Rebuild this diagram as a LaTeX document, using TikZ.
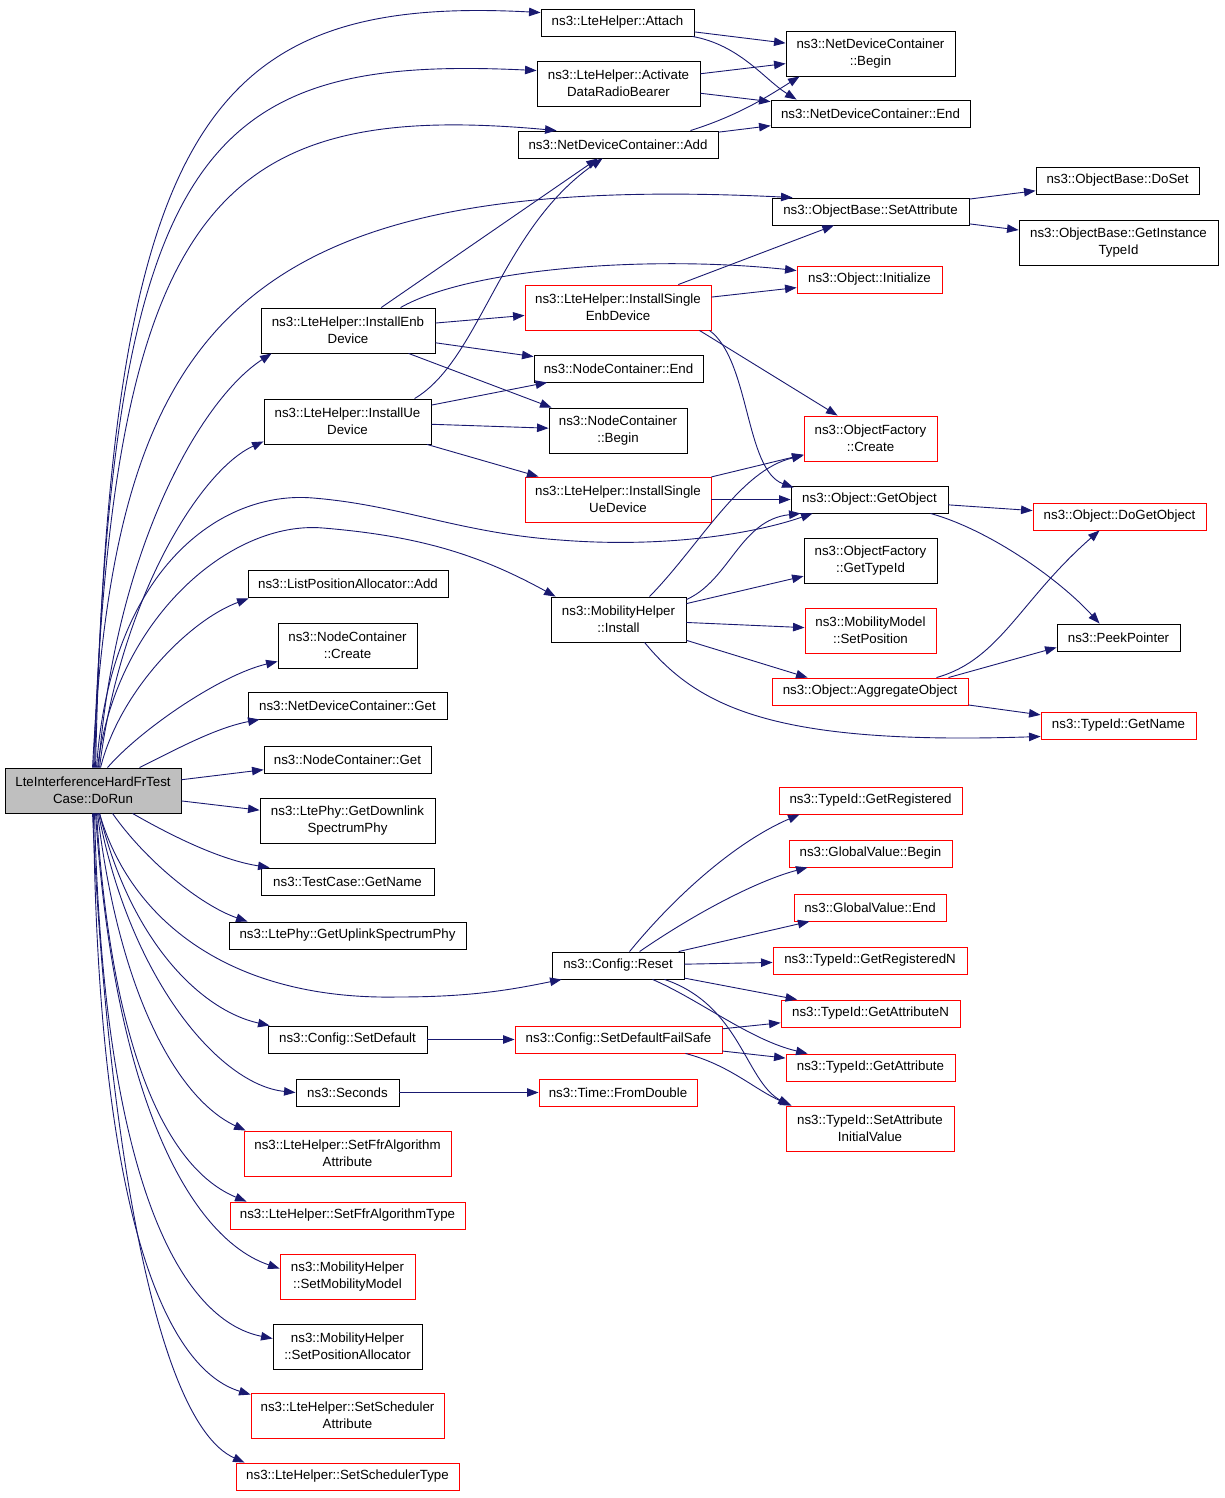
\documentclass[tikz,border=0pt]{standalone}
\usepackage{fontspec}
\newfontfamily\dfont{Liberation Sans}
\usetikzlibrary{arrows.meta,calc}
\definecolor{edgecol}{RGB}{25,25,112}
\definecolor{rootfill}{RGB}{191,191,191}
\newcommand\nodefont{\dfont\fontsize{13.3pt}{17pt}\selectfont}
\tikzset{
  nb/.style={draw=black, fill=white, line width=0.9pt, inner sep=0pt, align=center, font=\nodefont},
  rb/.style={nb, draw=red},
  box/.style 2 args={minimum width=#1pt, minimum height=#2pt},
  edge/.style={draw=edgecol, line width=0.9pt, -{Triangle[length=11.5pt,width=8.5pt]}}
}
\begin{document}
\begin{tikzpicture}[x=1pt,y=-1pt]
\useasboundingbox (0,0) rectangle (1224,1498);
% root
\node[nb, fill=rootfill, box={176}{45}] (root) at (93,790.5) {LteInterferenceHardFrTest\\Case::DoRun};
% column 1
\node[nb, box={153}{27}] (attach) at (617.5,22.5) {ns3::LteHelper::Attach};
\node[nb, box={163}{45}] (activate) at (618.5,83.5) {ns3::LteHelper::Activate\\DataRadioBearer};
\node[nb, box={200}{27}] (ndcadd) at (618,144.5) {ns3::NetDeviceContainer::Add};
\node[nb, box={174}{45}] (enb) at (348,330.5) {ns3::LteHelper::InstallEnb\\Device};
\node[nb, box={167}{45}] (ue) at (347.5,421.5) {ns3::LteHelper::InstallUe\\Device};
\node[nb, box={200}{27}] (lpa) at (348,583.5) {ns3::ListPositionAllocator::Add};
\node[nb, box={139}{45}] (nccreate) at (347.5,645.5) {ns3::NodeContainer\\::Create};
\node[nb, box={199}{27}] (ndcget) at (347.5,705.5) {ns3::NetDeviceContainer::Get};
\node[nb, box={167}{27}] (ncget) at (347.5,759.5) {ns3::NodeContainer::Get};
\node[nb, box={175}{45}] (downlink) at (347.5,820.5) {ns3::LtePhy::GetDownlink\\SpectrumPhy};
\node[nb, box={173}{27}] (tcname) at (347.5,881.5) {ns3::TestCase::GetName};
\node[nb, box={237}{27}] (uplink) at (347.5,935.5) {ns3::LtePhy::GetUplinkSpectrumPhy};
\node[nb, box={159}{27}] (setdefault) at (347.5,1039.5) {ns3::Config::SetDefault};
\node[nb, box={103}{27}] (seconds) at (347.5,1092.5) {ns3::Seconds};
\node[rb, box={207}{45}] (ffrattr) at (347.5,1153.5) {ns3::LteHelper::SetFfrAlgorithm\\Attribute};
\node[rb, box={235}{27}] (ffrtype) at (347.5,1215.5) {ns3::LteHelper::SetFfrAlgorithmType};
\node[rb, box={135}{45}] (setmob) at (347.5,1276.5) {ns3::MobilityHelper\\::SetMobilityModel};
\node[nb, box={149}{45}] (setpos) at (347.5,1346.5) {ns3::MobilityHelper\\::SetPositionAllocator};
\node[rb, box={193}{45}] (schedattr) at (347.5,1415.5) {ns3::LteHelper::SetScheduler\\Attribute};
\node[rb, box={223}{27}] (schedtype) at (347.5,1476.5) {ns3::LteHelper::SetSchedulerType};
% column 2
\node[rb, box={186}{45}] (senb) at (618,307.5) {ns3::LteHelper::InstallSingle\\EnbDevice};
\node[nb, box={169}{27}] (ncend) at (618.5,368.5) {ns3::NodeContainer::End};
\node[nb, box={138}{45}] (ncbegin) at (618,430.5) {ns3::NodeContainer\\::Begin};
\node[rb, box={186}{45}] (sue) at (618,499.5) {ns3::LteHelper::InstallSingle\\UeDevice};
\node[nb, box={135}{45}] (mobinst) at (618.5,619.5) {ns3::MobilityHelper\\::Install};
\node[nb, box={132}{27}] (reset) at (618,965.5) {ns3::Config::Reset};
\node[rb, box={207}{27}] (failsafe) at (618.5,1039.5) {ns3::Config::SetDefaultFailSafe};
\node[rb, box={158}{27}] (fromdouble) at (618,1092.5) {ns3::Time::FromDouble};
% column 3
\node[nb, box={169}{45}] (ndcbegin) at (870.5,53.5) {ns3::NetDeviceContainer\\::Begin};
\node[nb, box={199}{27}] (ndcend) at (870.5,113.5) {ns3::NetDeviceContainer::End};
\node[nb, box={197}{27}] (setattr) at (870.5,211.5) {ns3::ObjectBase::SetAttribute};
\node[rb, box={145}{27}] (init) at (869.5,279.5) {ns3::Object::Initialize};
\node[rb, box={133}{45}] (ofcreate) at (870.5,438.5) {ns3::ObjectFactory\\::Create};
\node[nb, box={157}{27}] (getobj) at (869.5,499.5) {ns3::Object::GetObject};
\node[nb, box={133}{45}] (oftypeid) at (870.5,560.5) {ns3::ObjectFactory\\::GetTypeId};
\node[rb, box={131}{45}] (setposition) at (870.5,630.5) {ns3::MobilityModel\\::SetPosition};
\node[rb, box={196}{27}] (aggr) at (870,691.5) {ns3::Object::AggregateObject};
\node[rb, box={183}{27}] (getreg) at (870.5,800.5) {ns3::TypeId::GetRegistered};
\node[rb, box={163}{27}] (gvbegin) at (870.5,853.5) {ns3::GlobalValue::Begin};
\node[rb, box={152}{27}] (gvend) at (870,907.5) {ns3::GlobalValue::End};
\node[rb, box={194}{27}] (getregn) at (870,960.5) {ns3::TypeId::GetRegisteredN};
\node[rb, box={179}{27}] (getattrn) at (870.5,1013.5) {ns3::TypeId::GetAttributeN};
\node[rb, box={169}{27}] (getattr) at (870.5,1067.5) {ns3::TypeId::GetAttribute};
\node[rb, box={168}{45}] (setinit) at (870,1128.5) {ns3::TypeId::SetAttribute\\InitialValue};
% column 4
\node[nb, box={163}{27}] (doset) at (1117.5,180.5) {ns3::ObjectBase::DoSet};
\node[nb, box={199}{45}] (getinst) at (1118.5,242.5) {ns3::ObjectBase::GetInstance\\TypeId};
\node[rb, box={173}{27}] (dogetobj) at (1119.5,516.5) {ns3::Object::DoGetObject};
\node[nb, box={123}{27}] (peek) at (1118.5,637.5) {ns3::PeekPointer};
\node[rb, box={155}{27}] (getname) at (1118.5,725.5) {ns3::TypeId::GetName};

% ---- edges from root (upwards)
\draw[edge] ($(root.north west)+(91,0)$) .. controls (110,120) and (210,-5) .. ($(attach.north west)+(0,4)$);
\draw[edge] ($(root.north west)+(90,0)$) .. controls (112,140) and (210,55) .. ($(activate.north west)+(0,10)$);
\draw[edge] ($(root.north west)+(89,0)$) .. controls (113,200) and (220,100) .. ($(ndcadd.north west)+(39,0)$);
\draw[edge] ($(root.north west)+(88,0)$) .. controls (115,330) and (230,170) .. ($(setattr.north west)+(21,0)$);
\draw[edge] ($(root.north west)+(94,0)$) .. controls (115,550) and (200,400) .. ($(enb.south west)+(11,0)$);
\draw[edge] ($(root.north west)+(95,0)$) .. controls (120,600) and (200,470) .. ($(ue.south west)+(0,-3)$);
\draw[edge] ($(root.north west)+(92,0)$) .. controls (110,570) and (220,490) .. (313,498)
   .. controls (400,505) and (460,533) .. (560,540)
   .. controls (660,548) and (750,535) .. ($(getobj.south west)+(22,0)$);
\draw[edge] ($(root.north west)+(93,0)$) .. controls (115,620) and (230,520) .. (323,528)
   .. controls (420,536) and (480,555) .. ($(mobinst.north west)+(5,0)$);
\draw[edge] ($(root.north west)+(96,0)$) .. controls (120,690) and (190,620) .. ($(lpa.south west)+(1,1)$);
\draw[edge] ($(root.north west)+(103,0)$) .. controls (140,730) and (220,675) .. ($(nccreate.south west)+(0,-7)$);
\draw[edge] ($(root.north west)+(135,0)$) .. controls (175,750) and (215,728) .. ($(ndcget.south west)+(12,0)$);
\draw[edge] (root) -- (ncget);
\draw[edge] (root) -- (downlink);
% ---- edges from root (downwards)
\draw[edge] ($(root.south west)+(128,0)$) .. controls (170,835) and (220,860) .. ($(tcname.north west)+(9,0)$);
\draw[edge] ($(root.south west)+(108,0)$) .. controls (145,860) and (200,905) .. ($(uplink.north west)+(19,0)$);
\draw[edge] ($(root.south west)+(95,0)$) .. controls (130,920) and (230,1000) .. (397,997)
   .. controls (470,997) and (510,990) .. ($(reset.south west)+(10,0)$);
\draw[edge] ($(root.south west)+(95,0)$) .. controls (130,940) and (200,1010) .. ($(setdefault.north west)+(2,0)$);
\draw[edge] ($(root.south west)+(94,0)$) .. controls (130,980) and (220,1085) .. ($(seconds.west)+(0,0)$);
\draw[edge] ($(root.south west)+(93,0)$) .. controls (120,1000) and (180,1100) .. ($(ffrattr.north west)+(2,0)$);
\draw[edge] ($(root.south west)+(92,0)$) .. controls (112,1060) and (170,1170) .. ($(ffrtype.north west)+(17,0)$);
\draw[edge] ($(root.south west)+(91,0)$) .. controls (115,1110) and (195,1240) .. ($(setmob.west)+(0,-8)$);
\draw[edge] ($(root.south west)+(90,0)$) .. controls (103,1180) and (180,1320) .. ($(setpos.west)+(0,-8)$);
\draw[edge] ($(root.south west)+(89,0)$) .. controls (98,1230) and (170,1370) .. ($(schedattr.north west)+(0,2)$);
\draw[edge] ($(root.south west)+(88,0)$) .. controls (105,1100) and (150,1420) .. ($(schedtype.north west)+(9,0)$);

% ---- other edges
\draw[edge] (attach) -- (ndcbegin);
\draw[edge] ($(attach.south east)+(-2,0)$) .. controls (740,45) and (765,80) .. ($(ndcend.north west)+(26,0)$);
\draw[edge] (activate) -- (ndcbegin);
\draw[edge] (activate) -- (ndcend);
\draw[edge] ($(ndcadd.north east)+(-28,0)$) .. controls (740,115) and (770,95) .. ($(ndcbegin.south west)+(14,0)$);
\draw[edge] (ndcadd) -- (ndcend);
\draw[edge] (setattr) -- (doset);
\draw[edge] (setattr) -- (getinst);
\draw[edge] (enb) -- (ndcadd);
\draw[edge] ($(enb.north west)+(140,0)$) .. controls (470,268) and (650,255) .. ($(init.north west)+(0,5)$);
\draw[edge] (enb) -- (senb);
\draw[edge] (enb) -- (ncend);
\draw[edge] (enb) -- ($(ncbegin.north west)+(3,0)$);
\draw[edge] ($(ue.north west)+(151,0)$) .. controls (480,360) and (500,230) .. ($(ndcadd.south west)+(85,0)$);
\draw[edge] (ue) -- (ncend);
\draw[edge] (ue) -- (ncbegin);
\draw[edge] (ue) -- (sue);
\draw[edge] (senb) -- (setattr);
\draw[edge] (senb) -- (init);
\draw[edge] ($(senb.south east)+(-12,0)$) -- ($(ofcreate.north west)+(34,0)$);
\draw[edge] ($(senb.south east)+(-2,0)$) .. controls (750,360) and (745,470) .. ($(getobj.north west)+(3,2)$);
\draw[edge] (sue) -- (ofcreate);
\draw[edge] (sue) -- (getobj);
\draw[edge] ($(mobinst.north west)+(99,0)$) .. controls (700,545) and (740,470) .. ($(ofcreate.south west)+(0,-6)$);
\draw[edge] ($(mobinst.north east)+(0,3)$) .. controls (730,580) and (740,520) .. ($(getobj.south west)+(10,0)$);
\draw[edge] (mobinst) -- (oftypeid);
\draw[edge] (mobinst) -- (setposition);
\draw[edge] (mobinst) -- ($(aggr.north west)+(36,0)$);
\draw[edge] ($(mobinst.south west)+(94,0)$) .. controls (700,710) and (780,745) .. ($(getname.west)+(0,11)$);
\draw[edge] (getobj) -- (dogetobj);
\draw[edge] ($(getobj.south east)+(-18,0)$) .. controls (990,530) and (1060,580) .. ($(peek.north west)+(43,0)$);
\draw[edge] ($(aggr.north east)+(-32,0)$) .. controls (1000,660) and (1020,600) .. ($(dogetobj.south west)+(67,0)$);
\draw[edge] ($(aggr.north east)+(-20,0)$) -- ($(peek.south west)+(0,-4)$);
\draw[edge] (aggr) -- (getname);
\draw[edge] ($(reset.north west)+(78,0)$) .. controls (680,890) and (740,840) .. ($(getreg.south west)+(21,0)$);
\draw[edge] ($(reset.north west)+(88,0)$) .. controls (700,910) and (760,880) .. ($(gvbegin.south west)+(19,0)$);
\draw[edge] (reset) -- (gvend);
\draw[edge] (reset) -- (getregn);
\draw[edge] (reset) -- (getattrn);
\draw[edge] ($(reset.south west)+(101,0)$) .. controls (700,1000) and (750,1040) .. ($(getattr.north west)+(22,0)$);
\draw[edge] ($(reset.south west)+(113,0)$) .. controls (740,1005) and (745,1080) .. ($(setinit.north west)+(4,0)$);
\draw[edge] (setdefault) -- (failsafe);
\draw[edge] (failsafe) -- (getattrn);
\draw[edge] (failsafe) -- (getattr);
\draw[edge] ($(failsafe.south east)+(-37,0)$) .. controls (730,1065) and (755,1090) .. ($(setinit.north west)+(6,0)$);
\draw[edge] (seconds) -- (fromdouble);
\end{tikzpicture}
\end{document}
